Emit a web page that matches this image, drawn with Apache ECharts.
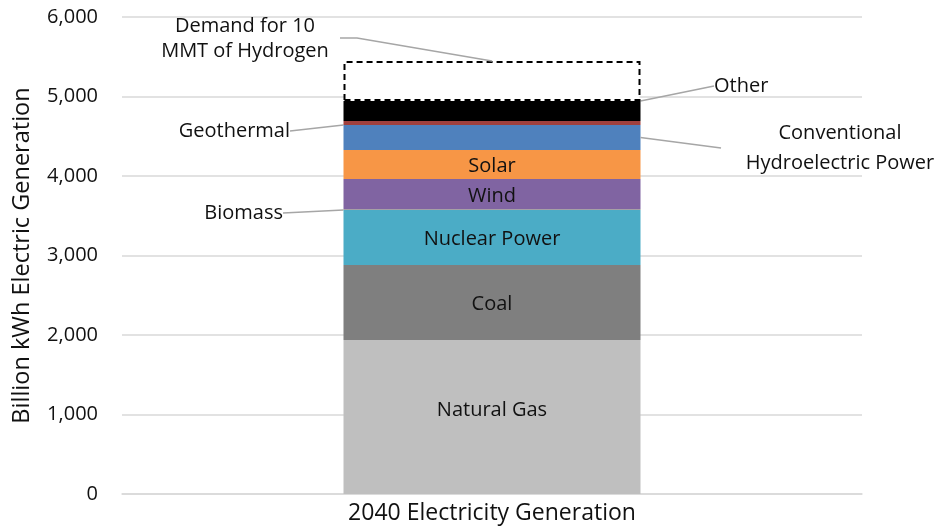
<!DOCTYPE html>
<html>
<head>
<meta charset="utf-8">
<script src="https://cdn.jsdelivr.net/npm/echarts@6/dist/echarts.min.js"></script>
<style>
  html, body { margin: 0; padding: 0; background: #fff; }
  #chart { width: 943px; height: 529px; }
</style>
</head>
<body>
<div id="chart"></div>
<script>
// data (billion kWh, 2040)
var categories = ["2040 Electricity Generation"];
var sourceNames = ["Natural Gas", "Coal", "Nuclear Power", "Biomass", "Wind", "Solar",
  "Conventional\nHydroelectric Power", "Geothermal", "Other", "Demand for 10\nMMT of Hydrogen"];
var sourceValues = [1937, 944, 691, 6, 384, 365, 315, 50, 251, 504];
var yTicks = [0, 6000, 1000];

// colours per layer
var colors = ["#bfbfbf", "#7f7f7f", "#4bacc6", "#9bbb59", "#8064a2", "#f79646",
  "#4f81bd", "#a0403d", "#000000", "#ffffff"];

// which labels sit inside the bar, which are called out with a leader line
var inside = { "Natural Gas": 1, "Coal": 1, "Nuclear Power": 1, "Wind": 1, "Solar": 1 };
var callouts = {
  "Biomass": { x: 283, y: 213, align: "right", auto: true },
  "Geothermal": { x: 290, y: 131, align: "right", auto: true },
  "Other": { x: 714, y: 86, align: "left", auto: true },
  // these two get their leader drawn by hand (from label -> elbow -> bar)
  "Conventional\nHydroelectric Power": { x: 840, y: 148, align: "center", from: [721, 148] },
  "Demand for 10\nMMT of Hydrogen": { x: 245, y: 39, align: "center", from: [340, 38], elbow: [357, 38] }
};

var BAR_W = 297;
var myChart = echarts.init(document.getElementById("chart"));
var font = "'Open Sans', 'Noto Sans', sans-serif";

var series = [];
for (var i = 0; i < sourceNames.length; i++) {
  var name = sourceNames[i];
  var isHydrogen = i === sourceNames.length - 1;
  var s = {
    name: name,
    type: "bar",
    stack: "total",
    barWidth: BAR_W,
    data: [sourceValues[i]],
    itemStyle: isHydrogen
      ? { color: "#ffffff", borderColor: "#000", borderWidth: 2, borderType: [6, 4] }
      : { color: colors[i] },
    label: {
      show: true,
      position: "inside",
      formatter: name,
      color: "#111",
      fontFamily: font,
      fontSize: 20,
      lineHeight: 28,
      offset: [0, name === "Natural Gas" ? -7 : 2]
    }
  };
  if (!inside[name]) {
    var c = callouts[name];
    s.labelLayout = { x: c.x, y: c.y, align: c.align, verticalAlign: "middle" };
    s.label.position = "right";
    s.label.offset = [0, 0];
    s.label.lineHeight = isHydrogen ? 25 : 30;
    if (c.auto) s.labelLine = { show: true, lineStyle: { color: "#a6a6a6", width: 1.5 } };
  }
  series.push(s);
}

var option = {
  animation: false,
  grid: { left: 122, right: 81, top: 17, bottom: 35 },
  xAxis: {
    type: "category",
    data: categories,
    axisLine: { lineStyle: { color: "#d9d9d9", width: 1.5 } },
    axisTick: { show: false },
    axisLabel: { color: "#111", fontSize: 23, fontFamily: font, margin: 8 }
  },
  yAxis: {
    type: "value",
    min: yTicks[0],
    max: yTicks[1],
    interval: yTicks[2],
    name: "Billion kWh Electric Generation",
    nameLocation: "middle",
    nameGap: 88,
    nameTextStyle: { color: "#111", fontSize: 23.5, fontFamily: font },
    axisLabel: { color: "#111", fontSize: 20, fontFamily: font, margin: 24 },
    splitLine: { lineStyle: { color: "#d9d9d9", width: 1.5 } }
  },
  series: series
};

myChart.setOption(option);

// hand-drawn leaders, ends taken from the axes
function stackTo(k) {
  var t = 0;
  for (var j = 0; j <= k; j++) t += sourceValues[j];
  return t;
}
var line = { stroke: "#a6a6a6", lineWidth: 1.5 };
var hIdx = sourceNames.length - 1;
var hydroIdx = sourceNames.indexOf("Conventional\nHydroelectric Power");
var topPt = myChart.convertToPixel({ gridIndex: 0 }, [0, stackTo(hIdx)]);
var hydroPt = myChart.convertToPixel({ gridIndex: 0 },
  [0, stackTo(hydroIdx) - sourceValues[hydroIdx] / 2]);
var dem = callouts[sourceNames[hIdx]];
var conv = callouts[sourceNames[hydroIdx]];

myChart.setOption({
  graphic: [
    { type: "polyline", silent: true, z: 10,
      shape: { points: [dem.from, dem.elbow, [topPt[0], topPt[1]]] }, style: line },
    { type: "polyline", silent: true, z: 10,
      shape: { points: [[hydroPt[0] + BAR_W / 2, hydroPt[1]], conv.from] }, style: line }
  ]
});
</script>
</body>
</html>
